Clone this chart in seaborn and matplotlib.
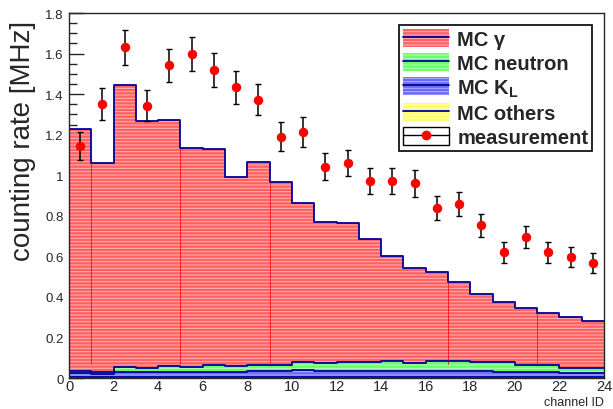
import numpy as np
import pandas as pd
import matplotlib
matplotlib.use('Agg')
import matplotlib.pyplot as plt
import seaborn as sns
from matplotlib.patches import Patch
from matplotlib.lines import Line2D
from matplotlib.ticker import MultipleLocator, FormatStrFormatter

# values
channels = np.arange(24)
mc_gamma = [1.192, 1.029, 1.389, 1.216, 1.213, 1.078, 1.063, 0.933, 0.999, 0.900, 0.786, 0.695,
            0.684, 0.608, 0.516, 0.465, 0.435, 0.393, 0.336, 0.299, 0.281, 0.258, 0.250, 0.232]
mc_neutron = [0.011, 0.010, 0.028, 0.020, 0.031, 0.025, 0.035, 0.029, 0.030, 0.030, 0.041, 0.040,
              0.043, 0.044, 0.048, 0.040, 0.050, 0.046, 0.047, 0.049, 0.034, 0.034, 0.026, 0.026]
mc_kl = [0.022, 0.018, 0.025, 0.028, 0.025, 0.028, 0.028, 0.025, 0.033, 0.033, 0.035, 0.033,
         0.033, 0.030, 0.033, 0.033, 0.033, 0.033, 0.030, 0.025, 0.025, 0.025, 0.022, 0.022]
mc_others = [0.003, 0.003, 0.003, 0.003, 0.003, 0.003, 0.003, 0.003, 0.003, 0.003, 0.003, 0.003,
             0.003, 0.003, 0.003, 0.003, 0.003, 0.003, 0.003, 0.003, 0.003, 0.003, 0.003, 0.003]
meas = [1.144, 1.351, 1.630, 1.343, 1.542, 1.596, 1.520, 1.433, 1.372, 1.190, 1.211, 1.042,
        1.060, 0.971, 0.971, 0.960, 0.840, 0.858, 0.754, 0.621, 0.697, 0.621, 0.597, 0.567]
meas_err = [0.070, 0.077, 0.085, 0.077, 0.082, 0.084, 0.084, 0.080, 0.077, 0.072, 0.074, 0.067,
            0.066, 0.065, 0.065, 0.065, 0.060, 0.060, 0.057, 0.052, 0.055, 0.052, 0.050, 0.049]
seam_edges = [1, 5, 9, 17, 21]

labels = ['MC γ', 'MC neutron', 'MC K$_\\mathbf{L}$', 'MC others']
face = ['#ff6262', '#66ff66', '#6a6aff', '#ffff66']
stripe = ['#ffb4b4', '#b8ffb8', '#b4b4ff', '#ffffbb']
navy = '#000099'

rows = []
for lab, vals in zip(labels, [mc_gamma, mc_neutron, mc_kl, mc_others]):
    for c, v in zip(channels, vals):
        rows.append({'channel': c + 0.5, 'source': lab, 'rate': v})
df = pd.DataFrame(rows)

sns.set_style('ticks')
plt.rcParams['font.family'] = ['Liberation Sans', 'DejaVu Sans']
plt.rcParams['mathtext.fontset'] = 'custom'
plt.rcParams['mathtext.bf'] = 'Liberation Sans:bold'
plt.rcParams['hatch.linewidth'] = 0.7

fig = plt.figure(figsize=(6.13, 4.10), dpi=100)
ax = fig.add_axes([0.1126, 0.0756, 0.8727, 0.8902])

sns.histplot(data=df, x='channel', weights='rate', hue='source', hue_order=labels,
             multiple='stack', binwidth=1, binrange=(0, 24), element='step', fill=True,
             alpha=1, palette=dict(zip(labels, face)), legend=False, ax=ax)
# ROOT-like stripe pattern on the filled areas
for coll in ax.collections:
    fc = matplotlib.colors.to_hex(coll.get_facecolor()[0])
    idx = [f.lower() for f in face].index(fc.lower())
    coll.set_hatch('-----')
    coll.set_edgecolor(stripe[idx])
    coll.set_linewidth(0)

# navy outlines
sns.histplot(data=df, x='channel', weights='rate', hue='source', hue_order=labels,
             multiple='stack', binwidth=1, binrange=(0, 24), element='step', fill=False,
             palette=dict(zip(labels, [navy] * 4)), legend=False, ax=ax, linewidth=1.3)

total = np.array(mc_gamma) + np.array(mc_neutron) + np.array(mc_kl) + np.array(mc_others)
ax.vlines(seam_edges, 0.07, total[seam_edges], color='#ff2020', lw=0.7, zorder=1.5)

ax.errorbar(channels + 0.5, meas, yerr=meas_err, fmt='o', color='red', ms=5.8,
            ecolor='black', elinewidth=1.1, capsize=2.2, capthick=1, zorder=5)

ax.set_xlim(0, 24)
ax.set_ylim(0, 1.8)
ax.xaxis.set_major_locator(MultipleLocator(2))
ax.yaxis.set_major_locator(MultipleLocator(0.2))
ax.yaxis.set_minor_locator(MultipleLocator(0.05))
ax.yaxis.set_major_formatter(FormatStrFormatter('%g'))
ax.xaxis.set_major_formatter(FormatStrFormatter('%g'))
ax.tick_params(axis='y', which='major', direction='in', length=11, width=1, labelsize=9.5, pad=4)
ax.tick_params(axis='y', which='minor', direction='in', length=5.5, width=1)
ax.tick_params(axis='x', which='both', length=0, labelsize=10.5, pad=0.5)
for s in ax.spines.values():
    s.set_linewidth(1)
    s.set_zorder(6)

ax.set_ylabel('counting rate [MHz]', fontsize=20, va='center', ha='center')
ax.yaxis.set_label_coords(-0.086, 0.652)
ax.set_xlabel('channel ID', fontsize=9, ha='right', va='bottom')
ax.xaxis.set_label_coords(1.0, -0.0835)

handles = []
for f, s in zip(face, stripe):
    handles.append((Patch(facecolor=f, edgecolor=s, hatch='-----', lw=0),
                    Line2D([], [], color=navy, lw=1.3)))
handles.append((Patch(facecolor='white', edgecolor='black', lw=1),
                Line2D([], [], color='black', lw=1, marker='o', mfc='red', mec='red', ms=6)))
leg = ax.legend(handles, labels + ['measurement'], loc='upper right',
                bbox_to_anchor=(0.978, 0.966), borderaxespad=0, fancybox=False,
                framealpha=1, edgecolor='black', prop={'weight': 'bold', 'size': 14.5},
                handlelength=2.3, handleheight=1.0, handletextpad=0.4, labelspacing=0.2,
                borderpad=0.2)
leg.get_frame().set_linewidth(1.2)
leg.set_zorder(10)

fig.savefig('out.png', dpi=100)
